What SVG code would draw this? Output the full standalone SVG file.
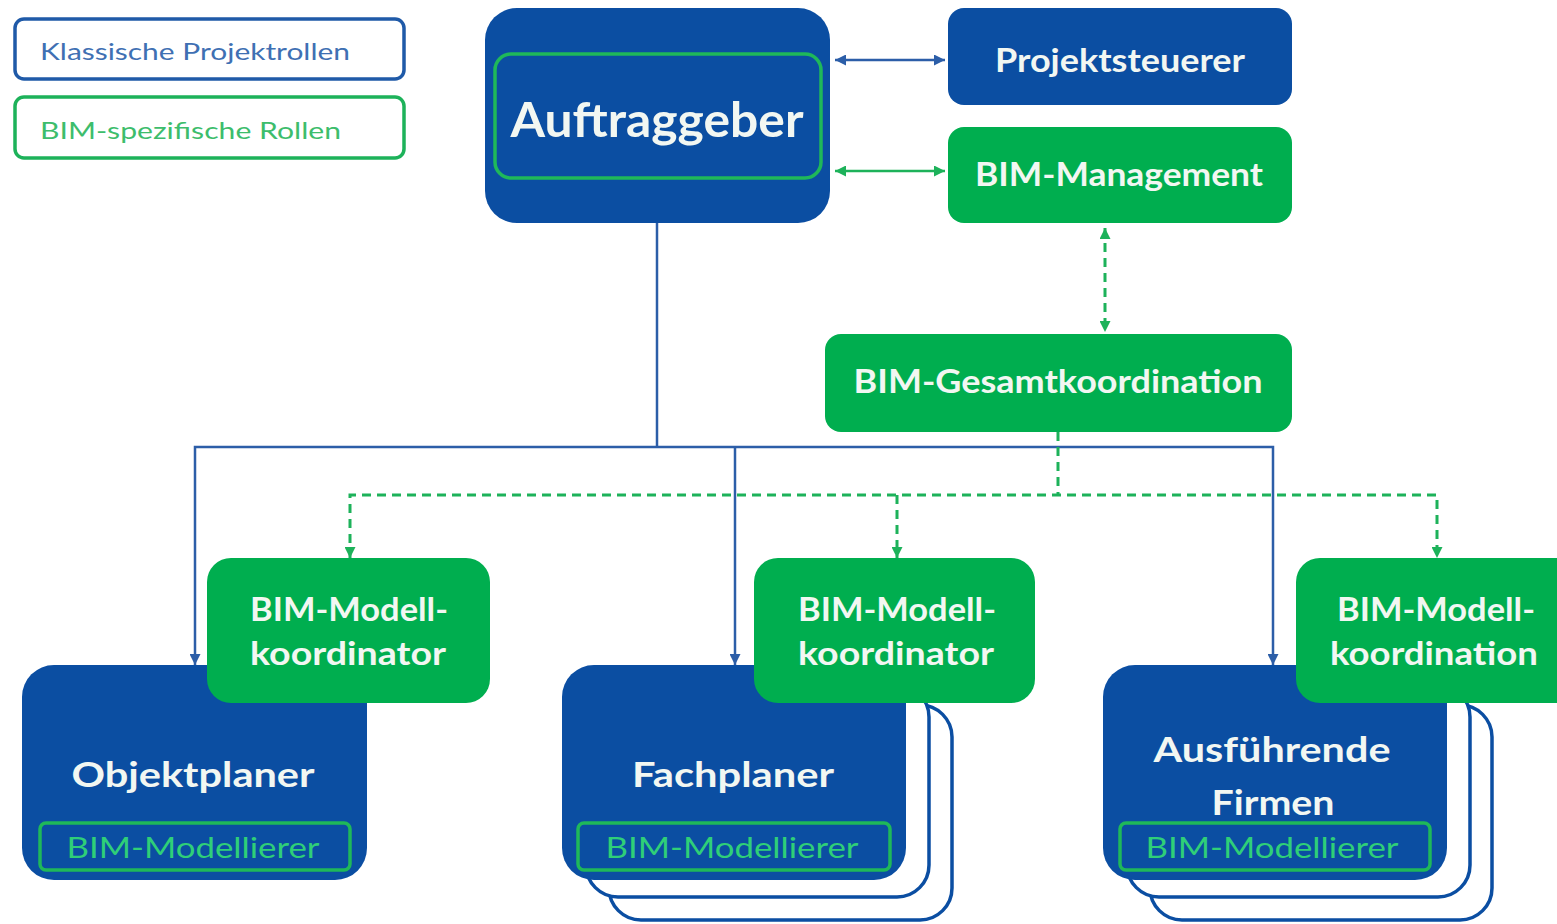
<svg xmlns="http://www.w3.org/2000/svg" width="1557" height="924" viewBox="0 0 1557 924">
<defs>
<style>
.blue{fill:#0b4ea2}
.green{fill:#00ae4f}
.back{fill:#ffffff;stroke:#0b4ea2;stroke-width:3.5}
.inner{fill:none;stroke:#1fb85a;stroke-width:3.5}
.t{font-family:Lato,"Open Sans","Liberation Sans",sans-serif;font-weight:bold;fill:#f2f7f2;text-anchor:middle}
.tm{font-family:Lato,"Open Sans","Liberation Sans",sans-serif;fill:#2fcf78;text-anchor:middle;font-size:29px}
.lg{font-family:Lato,"Open Sans","Liberation Sans",sans-serif;font-size:24px}
.cb{fill:none;stroke:#2c5ea8;stroke-width:2.5}
.cg{fill:none;stroke:#1db25a;stroke-width:2.5}
.cgd{fill:none;stroke:#1db25a;stroke-width:3;stroke-dasharray:9 6}
</style>
<marker id="ab" viewBox="0 0 10 10" refX="10" refY="5" markerWidth="11" markerHeight="11" markerUnits="userSpaceOnUse" orient="auto-start-reverse"><path d="M0,0L10,5L0,10z" fill="#2c5ea8"/></marker>
<marker id="ag" viewBox="0 0 10 10" refX="10" refY="5" markerWidth="11" markerHeight="11" markerUnits="userSpaceOnUse" orient="auto-start-reverse"><path d="M0,0L10,5L0,10z" fill="#1db25a"/></marker>
</defs>
<rect width="1557" height="924" fill="#ffffff"/>

<g id="legend">
<rect x="15" y="19" width="389" height="60" rx="9" fill="#fff" stroke="#1f5aa8" stroke-width="3.5"/>
<text class="lg" x="40" y="60" fill="#3f70b3" textLength="310" lengthAdjust="spacingAndGlyphs">Klassische Projektrollen</text>
<rect x="15" y="97" width="389" height="61" rx="9" fill="#fff" stroke="#1db25a" stroke-width="3.5"/>
<text class="lg" x="40" y="139" fill="#3dbd6c" textLength="301" lengthAdjust="spacingAndGlyphs">BIM-spezifische Rollen</text>
</g>

<g id="connectors">
<line class="cb" x1="835" y1="60" x2="945" y2="60" marker-start="url(#ab)" marker-end="url(#ab)"/>
<line class="cg" x1="835" y1="171" x2="945" y2="171" marker-start="url(#ag)" marker-end="url(#ag)"/>
<line class="cgd" x1="1105" y1="228" x2="1105" y2="332" marker-start="url(#ag)" marker-end="url(#ag)"/>
<polyline class="cb" points="657,222 657,447"/>
<polyline class="cb" points="195,665 195,447 1273,447 1273,665" marker-start="url(#ab)" marker-end="url(#ab)"/>
<line class="cb" x1="735" y1="447" x2="735" y2="665" marker-end="url(#ab)"/>
<line class="cgd" x1="1058" y1="432" x2="1058" y2="495"/>
<polyline class="cgd" points="350,558 350,495 1437,495 1437,558" marker-start="url(#ag)" marker-end="url(#ag)"/>
<line class="cgd" x1="897" y1="495" x2="897" y2="558" marker-end="url(#ag)"/>
</g>

<g id="auftraggeber">
<rect class="blue" x="485" y="8" width="345" height="215" rx="32"/>
<rect class="inner" x="495" y="54" width="326" height="124" rx="16"/>
<text class="t" x="657" y="137" font-size="48" textLength="293" lengthAdjust="spacingAndGlyphs">Auftraggeber</text>
</g>

<g id="projektsteuerer">
<rect class="blue" x="948" y="8" width="344" height="97" rx="16"/>
<text class="t" x="1120" y="72" font-size="32" textLength="250" lengthAdjust="spacingAndGlyphs">Projektsteuerer</text>
</g>

<g id="bim-management">
<rect class="green" x="948" y="127" width="344" height="96" rx="16"/>
<text class="t" x="1119" y="186" font-size="32" textLength="288" lengthAdjust="spacingAndGlyphs">BIM-Management</text>
</g>

<g id="bim-gesamtkoordination">
<rect class="green" x="825" y="334" width="467" height="98" rx="16"/>
<text class="t" x="1058" y="393" font-size="32" textLength="409" lengthAdjust="spacingAndGlyphs">BIM-Gesamtkoordination</text>
</g>

<g id="objektplaner">
<rect class="blue" x="22" y="665" width="345" height="215" rx="32"/>
<text class="t" x="193" y="787" font-size="34" textLength="243" lengthAdjust="spacingAndGlyphs">Objektplaner</text>
<rect class="inner" x="40" y="823" width="310" height="47" rx="6"/>
<text class="tm" x="193" y="858" textLength="253" lengthAdjust="spacingAndGlyphs">BIM-Modellierer</text>
</g>

<g id="bim-modellkoordinator-1">
<rect class="green" x="207" y="558" width="283" height="145" rx="24"/>
<text class="t" x="349" y="621" font-size="33" textLength="198" lengthAdjust="spacingAndGlyphs">BIM-Modell-</text>
<text class="t" x="348" y="665" font-size="33" textLength="196" lengthAdjust="spacingAndGlyphs">koordinator</text>
</g>

<g id="fachplaner">
<rect class="back" x="609" y="705" width="343" height="215" rx="32"/>
<rect class="back" x="586" y="685" width="343" height="212" rx="32"/>
<rect class="blue" x="562" y="665" width="344" height="215" rx="32"/>
<text class="t" x="733" y="787" font-size="34" textLength="202" lengthAdjust="spacingAndGlyphs">Fachplaner</text>
<rect class="inner" x="578" y="823" width="312" height="47" rx="6"/>
<text class="tm" x="732" y="858" textLength="253" lengthAdjust="spacingAndGlyphs">BIM-Modellierer</text>
</g>

<g id="bim-modellkoordinator-2">
<rect class="green" x="754" y="558" width="281" height="145" rx="24"/>
<text class="t" x="897" y="621" font-size="33" textLength="198" lengthAdjust="spacingAndGlyphs">BIM-Modell-</text>
<text class="t" x="896" y="665" font-size="33" textLength="196" lengthAdjust="spacingAndGlyphs">koordinator</text>
</g>

<g id="ausfuehrende-firmen">
<rect class="back" x="1150" y="705" width="342" height="215" rx="32"/>
<rect class="back" x="1127" y="685" width="343" height="212" rx="32"/>
<rect class="blue" x="1103" y="665" width="344" height="215" rx="32"/>
<text class="t" x="1272" y="762" font-size="34" textLength="237" lengthAdjust="spacingAndGlyphs">Ausführende</text>
<text class="t" x="1273" y="815" font-size="34" textLength="123" lengthAdjust="spacingAndGlyphs">Firmen</text>
<rect class="inner" x="1120" y="823" width="310" height="47" rx="6"/>
<text class="tm" x="1272" y="858" textLength="253" lengthAdjust="spacingAndGlyphs">BIM-Modellierer</text>
</g>

<g id="bim-modellkoordination">
<rect class="green" x="1296" y="558" width="290" height="145" rx="24"/>
<text class="t" x="1436" y="621" font-size="33" textLength="198" lengthAdjust="spacingAndGlyphs">BIM-Modell-</text>
<text class="t" x="1434" y="665" font-size="33" textLength="208" lengthAdjust="spacingAndGlyphs">koordination</text>
</g>
</svg>
